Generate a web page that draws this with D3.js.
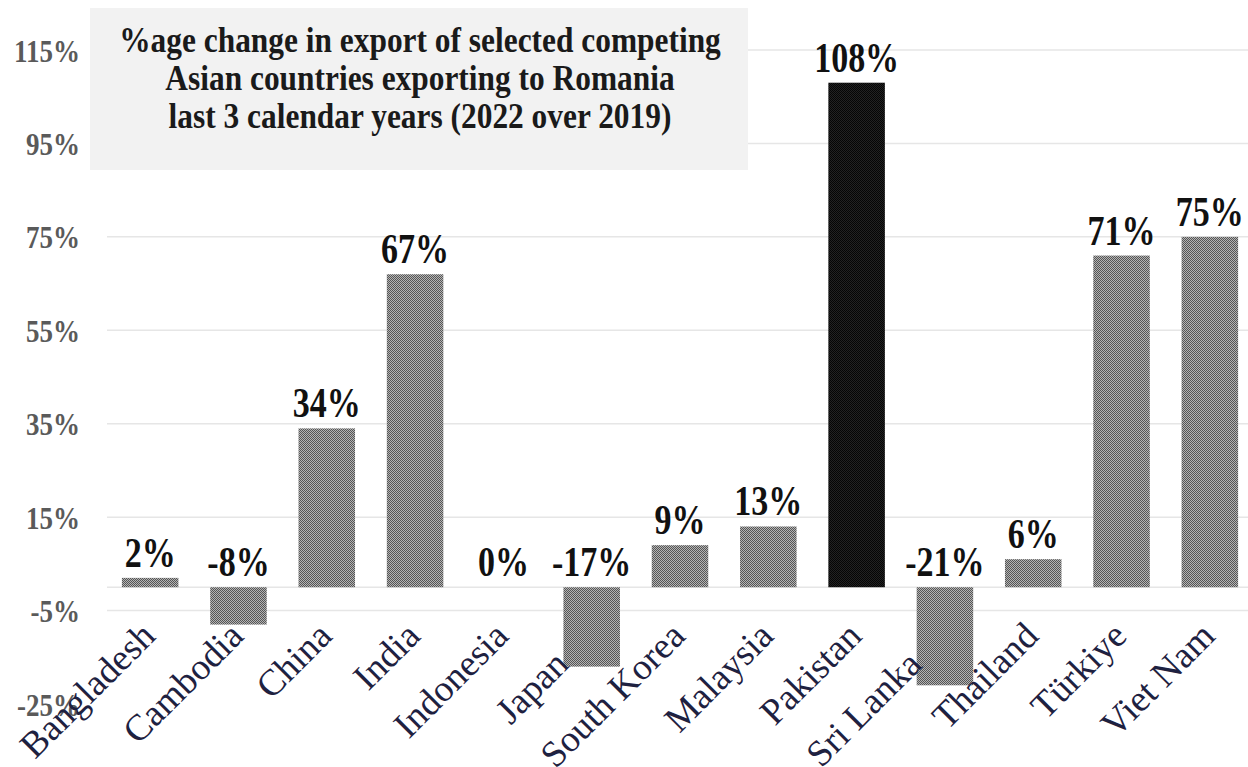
<!DOCTYPE html>
<html>
<head>
<meta charset="utf-8">
<script src="https://cdn.jsdelivr.net/npm/d3@7"></script>
<style>
  html, body { margin: 0; padding: 0; background: #fff; }
  svg { display: block; }
</style>
</head>
<body>
<script>
const w = 1248
const h = 767

const countries = ['Bangladesh', 'Cambodia', 'China', 'India', 'Indonesia', 'Japan', 'South Korea',
    'Malaysia', 'Pakistan', 'Sri Lanka', 'Thailand', 'Türkiye', 'Viet Nam']
const changes = [2, -8, 34, 67, 0, -17, 9, 13, 108, -21, 6, 71, 75]
const highlighted = ['Pakistan']
const yTicks = [-25, -5, 15, 35, 55, 75, 95, 115]
const titleLines = [
    '%age change in export of selected competing',
    'Asian countries exporting to Romania',
    'last 3 calendar years (2022 over 2019)'
]

const dataset = countries.map((c, i) => ({ name: c, value: changes[i] }))

const serif = '"Liberation Serif", "Times New Roman", serif'
const stretch = 1.2

let svg = d3.select('body')
    .append('svg')
    .attr('width', w)
    .attr('height', h)

// dithered fills like the original picture
let defs = svg.append('defs')
const patterns = { grey: ['#b4b4b4', '#555555'], dark: ['#222222', '#050505'] }
Object.entries(patterns).forEach(([id, c]) => {
    let p = defs.append('pattern')
        .attr('id', 'dots-' + id)
        .attr('patternUnits', 'userSpaceOnUse')
        .attr('width', 2)
        .attr('height', 2)
    p.append('rect').attr('width', 2).attr('height', 2).attr('fill', c[0])
    p.append('rect').attr('width', 1).attr('height', 1).attr('fill', c[1])
    p.append('rect').attr('x', 1).attr('y', 1).attr('width', 1).attr('height', 1).attr('fill', c[1])
})

const xScale = d3.scaleBand()
    .domain(countries)
    .range([106, 1254])
    .paddingInner(0.36)
    .paddingOuter(0.18)

const yScale = d3.scaleLinear()
    .domain([-25, 115])
    .range([704, 50])

// gridlines (none at the bottom tick) and the zero line
svg.append('g')
    .selectAll('line')
    .data(yTicks.filter(t => t > -25).concat([0]))
    .enter()
    .append('line')
    .attr('x1', 107)
    .attr('x2', w)
    .attr('y1', d => yScale(d))
    .attr('y2', d => yScale(d))
    .attr('stroke', '#e6e6e6')
    .attr('stroke-width', 1.5)

const yAxis = d3.axisLeft(yScale)
    .tickValues(yTicks)
    .tickFormat(d => d + '%')
    .tickSize(0)
    .tickPadding(26)

let yAxisG = svg.append('g')
    .attr('id', 'y-axis')
    .attr('transform', 'translate(106, 0)')
    .call(yAxis)
yAxisG.select('.domain').remove()
yAxisG.selectAll('text')
    .attr('y', 0)
    .attr('dy', '0.34em')
    .attr('transform', `scale(1, ${stretch})`)
    .style('font-family', serif)
    .style('font-weight', 'bold')
    .style('font-size', '27px')
    .style('fill', '#5a5a5a')

svg.selectAll('.bar')
    .data(dataset)
    .enter()
    .append('rect')
    .attr('class', 'bar')
    .attr('x', d => xScale(d.name))
    .attr('width', xScale.bandwidth())
    .attr('y', d => yScale(Math.max(0, d.value)))
    .attr('height', d => Math.abs(yScale(d.value) - yScale(0)))
    .attr('fill', d => highlighted.includes(d.name) ? 'url(#dots-dark)' : 'url(#dots-grey)')

// value labels above the bar, or above the zero line for negatives
svg.selectAll('.value')
    .data(dataset)
    .enter()
    .append('text')
    .attr('class', 'value')
    .attr('transform', d => `translate(${xScale(d.name) + xScale.bandwidth() / 2}, ${yScale(Math.max(0, d.value)) - 11}) scale(1, 1.25)`)
    .attr('text-anchor', 'middle')
    .style('font-family', serif)
    .style('font-weight', 'bold')
    .style('font-size', '34px')
    .style('fill', '#111')
    .text(d => d.value + '%')

// category labels, slanted
svg.selectAll('.cat')
    .data(dataset)
    .enter()
    .append('text')
    .attr('class', 'cat')
    .attr('transform', d => `translate(${xScale(d.name) + xScale.bandwidth() / 2 + 7}, 638) rotate(-45)`)
    .attr('x', d => d.value < -10 ? -40 : 0)
    .attr('text-anchor', 'end')
    .style('font-family', serif)
    .style('font-size', '37px')
    .style('fill', '#1e2140')
    .text(d => d.name)

// title box
svg.append('rect')
    .attr('x', 90)
    .attr('y', 8)
    .attr('width', 658)
    .attr('height', 162)
    .attr('fill', '#f2f2f2')

svg.append('g')
    .attr('id', 'title')
    .selectAll('text')
    .data(titleLines)
    .enter()
    .append('text')
    .attr('transform', (d, i) => `translate(420, ${52 + i * 38}) scale(1, 1.15)`)
    .attr('text-anchor', 'middle')
    .style('font-family', serif)
    .style('font-weight', 'bold')
    .style('font-size', '31.4px')
    .style('fill', '#1a1a1a')
    .text(d => d)
</script>
</body>
</html>
